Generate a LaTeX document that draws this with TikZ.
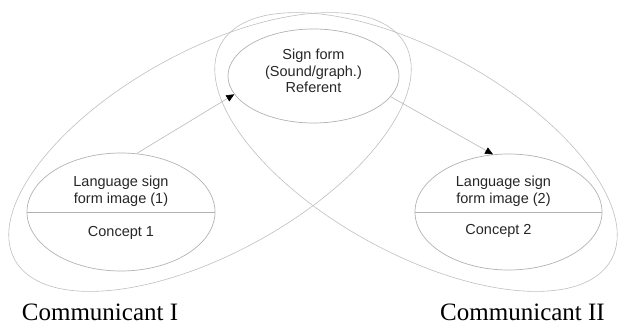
\documentclass[tikz,border=0pt]{standalone}
\usepackage{fontspec}
\setmainfont{Liberation Serif}
\newfontfamily\diagfont{Liberation Sans}
\usetikzlibrary{arrows.meta,positioning,shapes.geometric}

\begin{document}
\begin{tikzpicture}[x=1pt,y=1pt,
    loop/.style={draw=gray!50,line width=0.6pt},
    blob/.style={ellipse,draw=gray!60,line width=0.7pt,inner sep=0pt},
    txt/.style={font=\diagfont\fontsize{14.5}{17}\selectfont,align=center,text=black!85},
    link/.style={draw=gray!55,line width=0.6pt,-{Triangle[length=8pt,width=7pt,color=black]}},
    who/.style={font=\fontsize{25}{28}\selectfont,anchor=base}]
  \useasboundingbox (0,0) rectangle (621,327);
  \draw[loop,rotate around={28.9:(210,175)}] (210,175) ellipse [x radius=223,y radius=101];
  \draw[loop,rotate around={-28.9:(416,175)}] (416,175) ellipse [x radius=223,y radius=101];
  \node[blob,minimum width=171,minimum height=94] (sign) at (313.5,251) {};
  \node[txt,font=\diagfont\fontsize{14.5}{16.6}\selectfont] (signtext) at ([yshift=5]sign.center) {Sign form\\(Sound/graph.)\\Referent};
  \node[blob,minimum width=188,minimum height=118] (lang1) at (121,115) {};
  \node[blob,minimum width=187,minimum height=116] (lang2) at (508.5,115) {};
  \draw[gray!60,line width=0.7pt] (lang1.west) -- (lang1.east);
  \draw[gray!60,line width=0.7pt] (lang2.west) -- (lang2.east);
  \node[txt] (form1) at ([yshift=21]lang1.center) {Language sign\\form image (1)};
  \node[txt] (concept1) at ([yshift=-21]lang1.center) {Concept 1};
  \node[txt] (form2) at ([xshift=-5,yshift=21]lang2.center) {Language sign\\form image (2)};
  \node[txt] (concept2) at ([xshift=-10,yshift=-19]lang2.center) {Concept 2};
  \draw[link] (lang1.75) -- (sign.193);
  \draw[link] (sign.345) -- (lang2.105);
  \node[who] (comm1) at (100,7) {Communicant I};
  \node[who] (comm2) at (522.5,7) {Communicant II};
\end{tikzpicture}
\end{document}
